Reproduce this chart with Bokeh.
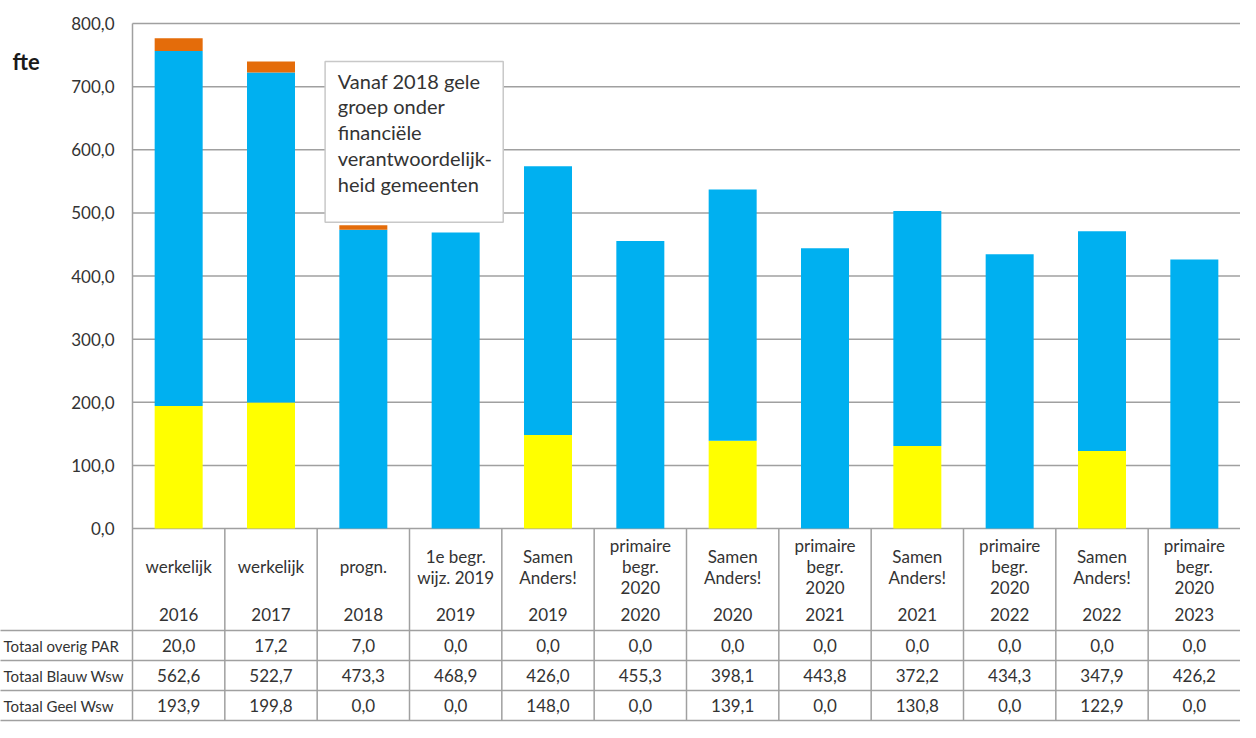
from bokeh.plotting import figure
from bokeh.models import (Range1d, LinearAxis, FixedTicker, CustomJSTickFormatter,
                          ColumnDataSource)
from bokeh.core.properties import value
from bokeh.embed import file_html
from bokeh.resources import INLINE

# ---------------- data ----------------
categories = ["werkelijk", "werkelijk", "progn.", "1e begr.\nwijz. 2019", "Samen\nAnders!",
              "primaire\nbegr.\n2020", "Samen\nAnders!", "primaire\nbegr.\n2020",
              "Samen\nAnders!", "primaire\nbegr.\n2020", "Samen\nAnders!", "primaire\nbegr.\n2020"]
years = ["2016", "2017", "2018", "2019", "2019", "2020", "2020", "2021", "2021", "2022", "2022", "2023"]
overig_par = [20.0, 17.2, 7.0, 0.0, 0.0, 0.0, 0.0, 0.0, 0.0, 0.0, 0.0, 0.0]
blauw_wsw = [562.6, 522.7, 473.3, 468.9, 426.0, 455.3, 398.1, 443.8, 372.2, 434.3, 347.9, 426.2]
geel_wsw = [193.9, 199.8, 0.0, 0.0, 148.0, 0.0, 139.1, 0.0, 130.8, 0.0, 122.9, 0.0]
series_names = ["Totaal overig PAR", "Totaal Blauw Wsw", "Totaal Geel Wsw"]
y_ticks = [0, 100, 200, 300, 400, 500, 600, 700, 800]
unit_label = "fte"
note_lines = ["Vanaf 2018 gele", "groep onder", "financiële", "verantwoordelijk-", "heid gemeenten"]

# ---------------- layout constants (canvas pixels) ----------------
W, H = 1240, 722
AX_X = 132                     # canvas x of the value axis
COL_W = (W - AX_X) / 12.0      # width of one category column
Y_TOP_PX = 23                  # canvas y of value 800
Y0_PX = 528                    # canvas y of value 0
PX_PER_UNIT = (Y0_PX - Y_TOP_PX) / 800.0

def cx(px):
    return (px - AX_X) / COL_W

def cy(py):
    return (Y0_PX - py) / PX_PER_UNIT

x_start, x_end = cx(0), cx(W)
y_start, y_end = cy(H), cy(0)

FONT = "Lato"
TXT = "#333333"
LINE = "#A0A0A0"
YELLOW, BLUE, ORANGE = "#FFFF00", "#00B0F0", "#E46C0A"

p = figure(width=W, height=H, x_range=Range1d(x_start, x_end), y_range=Range1d(y_start, y_end),
           x_axis_type=None, y_axis_type=None, output_backend="svg", toolbar_location=None,
           min_border=0, outline_line_color=None, background_fill_color="white")

ticker = FixedTicker(ticks=y_ticks)

# horizontal value grid lines (from the value axis to the right edge)
p.segment(x0=[0] * len(y_ticks), y0=y_ticks, x1=[x_end + 1] * len(y_ticks), y1=y_ticks,
          line_color=LINE, line_width=1.5)

# ---------------- bars ----------------
n = len(categories)
xs = [i + 0.5 for i in range(n)]
src = ColumnDataSource(dict(x=xs, geel=geel_wsw, blauw=blauw_wsw, overig=overig_par))
p.vbar_stack(["geel", "blauw", "overig"], x="x", width=48 / COL_W, source=src,
             fill_color=[YELLOW, BLUE, ORANGE], line_color=None)

# ---------------- data table ----------------
row_bounds_px = [630, 660, 690, 720]
p.segment(x0=[x_start - 0.2] * 4, y0=[cy(v) for v in row_bounds_px], x1=[x_end + 1] * 4,
          y1=[cy(v) for v in row_bounds_px], line_color=LINE, line_width=1.5)
p.segment(x0=list(range(1, n)), y0=[0] * (n - 1), x1=list(range(1, n)), y1=[cy(720)] * (n - 1),
          line_color=LINE, line_width=1.5)

hx, hy, ht = [], [], []
for i, c in enumerate(categories):
    parts = c.split("\n")
    k = len(parts)
    for j, t in enumerate(parts):
        hx.append(xs[i])
        hy.append(cy(566 + (j - (k - 1) / 2) * 21))
        ht.append(t)
p.text(x=hx, y=hy, text=ht, text_align="center", text_baseline="middle",
       text_font=value(FONT), text_font_size="17px", text_color=TXT)
p.text(x=xs, y=[cy(614)] * n, text=years, text_align="center", text_baseline="middle",
       text_font=value(FONT), text_font_size="17px", text_color=TXT)

def fmt(v):
    return f"{v:.1f}".replace(".", ",")

row_centers_px = [645, 675, 705]
for series, ypx in zip([overig_par, blauw_wsw, geel_wsw], row_centers_px):
    p.text(x=xs, y=[cy(ypx)] * n, text=[fmt(v) for v in series], text_align="center",
           text_baseline="middle", text_font=value(FONT), text_font_size="17px", text_color=TXT)

p.text(x=[cx(3)] * 3, y=[cy(v) for v in row_centers_px], text=series_names,
       text_align="left", text_baseline="middle", text_font=value(FONT),
       text_font_size="15px", text_color=TXT)

# ---------------- note box (data-relative placement) ----------------
p.quad(left=[2.086], right=[4.015], top=[740], bottom=[485],
       fill_color="white", line_color="#C8C8C8", line_width=1.5)
p.text(x=[2.223] * len(note_lines), y=[709.4 - 40.8 * k for k in range(len(note_lines))],
       text=note_lines, text_align="left", text_baseline="middle", text_font=value(FONT),
       text_font_size="20px", text_color=TXT)

# unit label
p.text(x=[cx(12)], y=[cy(61)], text=[unit_label], text_align="left", text_baseline="middle",
       text_font=value(FONT), text_font_size="22px", text_font_style="bold", text_color="#1a1a1a")

# ---------------- value axis ----------------
yaxis = LinearAxis(fixed_location=0, ticker=ticker,
                   formatter=CustomJSTickFormatter(code="return tick.toFixed(1).replace('.', ',');"),
                   bounds=(cy(720), 800))
yaxis.major_tick_in = 0
yaxis.major_tick_out = 0
yaxis.minor_tick_in = 0
yaxis.minor_tick_out = 0
yaxis.major_tick_line_color = None
yaxis.minor_tick_line_color = None
yaxis.axis_line_color = LINE
yaxis.axis_line_width = 1.5
yaxis.major_label_standoff = 18
yaxis.major_label_text_font = FONT
yaxis.major_label_text_font_size = "17px"
yaxis.major_label_text_color = TXT
p.add_layout(yaxis, "left")

open("out.html", "w").write(file_html(p, INLINE))
